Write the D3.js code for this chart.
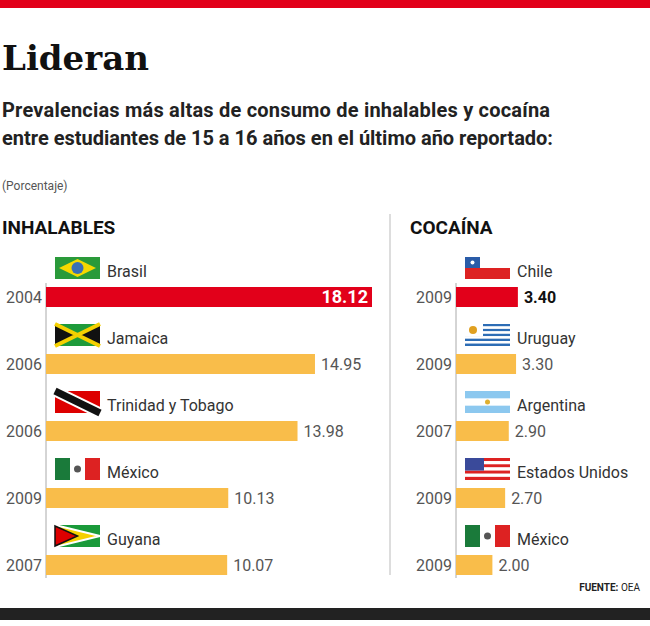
<!DOCTYPE html><html><head><meta charset="utf-8"><script src="https://cdn.jsdelivr.net/npm/d3@7"></script>
<style>body{margin:0;background:#fff}svg{display:block}text{font-family:'Liberation Sans Narrow','Roboto',Arial,sans-serif}</style></head><body><svg id="c" width="650" height="626"></svg>
<script>
const inhCountries=["Brasil","Jamaica","Trinidad y Tobago","México","Guyana"];
const inhYears=["2004","2006","2006","2009","2007"];
const inhValues=[18.12,14.95,13.98,10.13,10.07];
const cocCountries=["Chile","Uruguay","Argentina","Estados Unidos","México"];
const cocYears=["2009","2009","2007","2009","2009"];
const cocValues=[3.40,3.30,2.90,2.70,2.00];
const RED="#e2001a",YEL="#f9bd4a",GR="#555";
const svg=d3.select("#c");
svg.append("rect").attr("x",0).attr("y",0).attr("width",650).attr("height",8).attr("fill",RED);
svg.append("rect").attr("x",0).attr("y",608).attr("width",650).attr("height",12).attr("fill","#222");
svg.append("text").attr("x",2).attr("y",70).attr("font-size",34).attr("font-weight","bold").style("font-family","'DejaVu Serif',serif").attr("fill","#111").text("Lideran");
svg.append("text").attr("x",2).attr("y",117).attr("font-size",20).attr("font-weight","bold").attr("fill","#222").attr("textLength",548).text("Prevalencias más altas de consumo de inhalables y cocaína");
svg.append("text").attr("x",2).attr("y",145).attr("font-size",20).attr("font-weight","bold").attr("fill","#222").attr("textLength",551).text("entre estudiantes de 15 a 16 años en el último año reportado:");
svg.append("text").attr("x",2).attr("y",190).attr("font-size",12).attr("fill",GR).text("(Porcentaje)");
svg.append("text").attr("x",2).attr("y",234).attr("font-size",19).attr("font-weight","bold").attr("fill","#111").text("INHALABLES");
svg.append("text").attr("x",410).attr("y",234).attr("font-size",19).attr("font-weight","bold").attr("fill","#111").text("COCAÍNA");
svg.append("line").attr("x1",390).attr("x2",390).attr("y1",214).attr("y2",575).attr("stroke","#bbb");
svg.append("text").attr("x",640).attr("y",591).attr("text-anchor","end").attr("font-size",10).attr("fill","#222").html('<tspan font-weight="bold">FUENTE:</tspan> OEA');
const y=d3.scaleBand().domain(d3.range(5)).range([243,578]);
function flag(g,name){
  const W=45,H=22;
  if(name==="Brasil"){g.append("rect").attr("width",W).attr("height",H).attr("fill","#2a9a3a");g.append("polygon").attr("points",`4,${H/2} ${W/2},2 ${W-4},${H/2} ${W/2},${H-2}`).attr("fill","#f5d800");g.append("circle").attr("cx",W/2).attr("cy",H/2).attr("r",6).attr("fill","#3a6fb5");}
  else if(name==="Jamaica"){g.append("rect").attr("width",W).attr("height",H).attr("fill","#111");g.append("polygon").attr("points",`0,0 ${W/2},${H/2} ${W},0`).attr("fill","#1e9a3a");g.append("polygon").attr("points",`0,${H} ${W/2},${H/2} ${W},${H}`).attr("fill","#1e9a3a");g.append("path").attr("d",`M0,0L${W},${H}M${W},0L0,${H}`).attr("stroke","#f5d000").attr("stroke-width",4);}
  else if(name==="Trinidad y Tobago"){g.append("rect").attr("width",W).attr("height",H).attr("fill","#d00");g.append("path").attr("d",`M0,0L${W},${H}`).attr("stroke","#fff").attr("stroke-width",11);g.append("path").attr("d",`M0,0L${W},${H}`).attr("stroke","#111").attr("stroke-width",7);}
  else if(name==="México"){g.append("rect").attr("width",15).attr("height",H).attr("fill","#1a7a3a");g.append("rect").attr("x",15).attr("width",15).attr("height",H).attr("fill","#fff");g.append("rect").attr("x",30).attr("width",15).attr("height",H).attr("fill","#d22");g.append("circle").attr("cx",22.5).attr("cy",H/2).attr("r",3.5).attr("fill","#555");}
  else if(name==="Guyana"){g.append("rect").attr("width",W).attr("height",H).attr("fill","#1a9a3a");g.append("polygon").attr("points",`0,0 ${W},${H/2} 0,${H}`).attr("fill","#f5d000").attr("stroke","#fff").attr("stroke-width",2);g.append("polygon").attr("points",`0,1 ${W/2},${H/2} 0,${H-1}`).attr("fill","#d00").attr("stroke","#111").attr("stroke-width",1.5);}
  else if(name==="Chile"){g.append("rect").attr("width",W).attr("height",H/2).attr("fill","#fff");g.append("rect").attr("y",H/2).attr("width",W).attr("height",H/2).attr("fill","#d22");g.append("rect").attr("width",15).attr("height",H/2).attr("fill","#2a5ca8");g.append("circle").attr("cx",7.5).attr("cy",H/4).attr("r",2).attr("fill","#fff");}
  else if(name==="Uruguay"){for(let i=0;i<9;i++)g.append("rect").attr("y",i*H/9).attr("width",W).attr("height",H/9).attr("fill",i%2?"#fff":"#2d6db5");g.append("rect").attr("width",18).attr("height",H*5/9).attr("fill","#fff");g.append("circle").attr("cx",8).attr("cy",6).attr("r",4).attr("fill","#e0a020");}
  else if(name==="Argentina"){g.append("rect").attr("width",W).attr("height",H).attr("fill","#8cc8ef");g.append("rect").attr("y",H/3).attr("width",W).attr("height",H/3).attr("fill","#fff");g.append("circle").attr("cx",W/2).attr("cy",H/2).attr("r",2.5).attr("fill","#e0b030");}
  else if(name==="Estados Unidos"){for(let i=0;i<7;i++)g.append("rect").attr("y",i*H/7).attr("width",W).attr("height",H/7).attr("fill",i%2?"#fff":"#d22");g.append("rect").attr("width",19).attr("height",H*4/7).attr("fill","#3a4a9a");}
}
function panel(countries,years,values,x0,xMax,flagX,yearX){
  const x=d3.scaleLinear().domain([0,18.12]).range([x0,xMax]);
  svg.append("line").attr("x1",x0).attr("x2",x0).attr("y1",y(0)+40).attr("y2",y(4)+y.bandwidth()).attr("stroke","#aaa");
  values.forEach((v,i)=>{
    const t=y(i);
    const g=svg.append("g").attr("transform",`translate(${flagX},${t+14})`);flag(g,countries[i]);
    svg.append("text").attr("x",flagX+52).attr("y",t+34).attr("font-size",16).attr("fill","#333").text(countries[i]);
    svg.append("rect").attr("x",x0).attr("y",t+44).attr("width",x(v)-x0).attr("height",20).attr("fill",i===0?RED:YEL);
    svg.append("text").attr("x",yearX).attr("y",t+60).attr("text-anchor","end").attr("font-size",16).attr("fill",GR).text(years[i]);
    const inside=i===0&&countries===inhCountries;
    svg.append("text").attr("x",inside?x(v)-4:x(v)+6).attr("y",t+60).attr("text-anchor",inside?"end":"start").attr("font-size",inside?18:16).attr("font-weight",i===0?"bold":"normal").attr("fill",inside?"#fff":(i===0?"#111":GR)).text(v.toFixed(2));
  });
}
panel(inhCountries,inhYears,inhValues,46,372,55,42);
panel(cocCountries,cocYears,cocValues,456,456+18.12*18.2,465,452);
</script></body></html>
